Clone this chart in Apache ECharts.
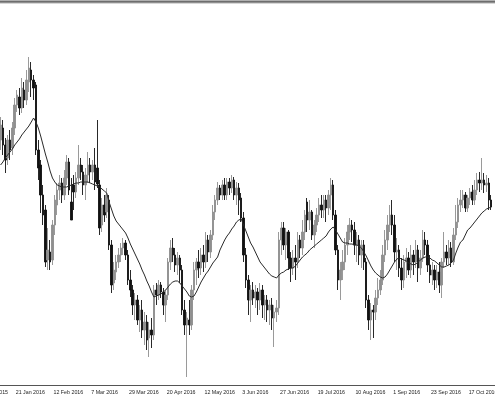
<!DOCTYPE html>
<html>
<head>
<meta charset="utf-8">
<script src="https://cdn.jsdelivr.net/npm/echarts@6/dist/echarts.min.js"></script>
<style>
html,body{margin:0;padding:0;background:#fff;}
#chart{width:495px;height:400px;}
</style>
</head>
<body>
<div id="chart"></div>
<script>
// Daily bars, weekdays starting 30 Dec 2015 (first drawn bar is index 10)
const startDate = '2015-12-30';
const barCount = 222;
const firstBar = 10;
const labelEvery = 16;

const opens = [260,272,255,242,260,252,272,295,303,292,310,300,318,330,320,315,250,235,205,190,140,148,140,175,195,210,217,205,222,238,198,215,208,222,235,228,215,225,235,228,235,232,215,175,195,188,200,155,117,128,138,145,152,157,145,120,110,95,100,80,90,70,78,62,70,65,110,105,115,108,95,105,138,152,145,135,142,130,90,75,80,75,110,130,138,132,145,138,160,148,165,188,200,212,205,215,205,218,212,220,205,212,202,182,145,120,100,110,102,108,100,110,95,100,90,95,82,88,92,160,172,155,168,142,132,142,138,160,152,168,198,180,188,165,175,185,195,190,200,192,205,215,185,150,120,130,138,155,168,175,170,155,160,145,155,138,100,80,90,88,102,110,120,145,160,175,185,175,148,150,132,120,138,142,130,145,138,150,132,142,160,155,135,125,130,120,128,115,138,148,142,152,138,165,178,195,200,205,192,202,208,200,210,220,217,220,215,217,200];
const closes = [275,255,240,260,250,272,295,305,292,312,300,320,332,320,312,250,232,205,185,138,150,138,175,200,210,217,205,222,238,210,180,208,222,235,228,215,225,235,228,235,218,216,172,195,185,205,155,115,130,138,145,152,157,145,120,110,95,100,80,90,70,78,60,70,65,110,105,115,108,95,105,138,152,145,135,142,130,90,75,82,75,110,130,138,132,145,138,160,148,165,188,200,212,205,215,205,218,212,220,205,212,200,182,145,120,100,110,102,108,100,110,95,100,90,95,82,88,92,160,172,155,168,142,132,142,138,160,152,168,185,180,188,165,175,185,195,190,200,192,205,215,185,150,120,130,138,155,168,175,170,155,160,145,155,138,100,80,90,88,102,110,120,145,160,175,185,175,148,150,132,120,138,142,130,145,138,150,132,142,160,155,135,125,130,120,128,115,138,148,142,152,138,165,178,195,200,205,192,202,208,200,210,220,217,220,215,217,200,193];
const lows = [250,245,227,235,240,245,265,288,285,287,292,295,308,303,300,245,220,187,175,133,130,130,135,165,185,200,197,200,215,205,195,190,202,215,220,205,200,217,217,220,210,212,165,168,178,182,150,107,110,120,132,138,145,140,115,103,85,80,75,68,62,55,50,43,52,60,95,100,102,85,78,100,130,138,128,125,117,85,65,23,65,70,100,115,122,125,128,132,138,142,160,180,195,200,200,200,200,205,207,200,195,185,178,138,112,85,78,95,92,85,90,82,80,78,75,70,53,78,85,145,150,140,130,118,125,120,132,142,145,160,168,170,160,152,168,178,182,182,178,185,190,180,145,110,100,120,130,145,160,158,145,138,135,132,130,92,70,60,62,80,95,105,115,138,150,168,165,138,130,123,110,112,122,125,122,125,132,118,125,138,145,128,117,115,110,112,107,102,132,135,135,133,135,160,172,188,192,188,188,195,195,195,205,208,210,207,208,190,190];
const highs = [283,280,262,265,270,278,302,310,312,322,318,330,343,338,325,318,260,240,215,195,172,160,180,205,217,225,222,230,245,242,222,225,228,255,242,235,232,248,242,240,252,280,220,202,205,212,205,160,138,145,152,157,162,160,150,130,115,107,105,95,100,88,85,78,82,115,117,120,118,112,110,142,160,162,152,148,145,135,100,88,100,115,138,142,150,152,155,168,165,170,195,205,218,215,220,222,222,222,225,223,218,217,207,188,152,125,115,118,115,112,117,115,105,105,100,102,95,100,168,178,178,172,170,148,150,155,168,165,180,190,202,200,190,180,192,202,205,205,205,210,222,220,190,155,138,150,162,175,182,180,178,168,165,160,160,142,105,97,95,110,122,130,155,170,185,195,200,185,162,155,142,145,152,148,155,150,160,155,150,170,168,160,145,138,135,135,138,142,168,155,160,158,172,195,202,210,210,208,205,212,215,220,227,228,242,227,225,222,205];
const maValues = [235,238,242,245,248,251,255,258,261,265,268,271,274,278,282,278,272,264,255,246,238,229,222,218,215,214,213,213,213,214,215,216,217,217,218,218,218,218,217,216,215,214,213,211,209,207,198,191,184,179,176,173,170,167,162,156,151,146,141,136,130,125,119,114,108,103,104,105,106,108,110,113,116,118,119,119,117,114,111,108,104,103,104,108,113,118,122,126,129,133,137,140,143,150,155,160,164,167,171,174,178,180,181,175,169,163,157,153,148,143,138,135,132,129,126,124,123,122,125,127,128,130,131,132,132,134,137,140,143,145,147,150,152,154,156,158,160,162,164,168,171,173,170,166,162,158,157,157,156,156,155,155,154,152,148,144,139,134,130,127,125,123,122,123,126,130,134,138,141,142,141,140,139,137,136,135,136,138,140,142,143,143,142,140,139,137,135,133,133,134,135,137,140,147,153,158,160,165,170,172,175,178,181,184,187,189,191,192,193];

const monthNames = ['Jan','Feb','Mar','Apr','May','Jun','Jul','Aug','Sep','Oct','Nov','Dec'];
const categories = [];
(function () {
  const d = new Date(startDate + 'T00:00:00Z');
  while (categories.length < barCount) {
    const wd = d.getUTCDay();
    if (wd !== 0 && wd !== 6) {
      categories.push(d.getUTCDate() + ' ' + monthNames[d.getUTCMonth()] + ' ' + d.getUTCFullYear());
    }
    d.setUTCDate(d.getUTCDate() + 1);
  }
})();

const candleData = opens.map((o, k) => [firstBar + k, o, closes[k], lows[k], highs[k]]);
const maData = maValues.map((v, k) => [firstBar + k, v]);

const chart = echarts.init(document.getElementById('chart'), null, {renderer: 'canvas'});
chart.setOption({
  animation: false,
  backgroundColor: '#ffffff',
  grid: {left: -24.2, width: 523.7, top: 0, height: 385.7, containLabel: false, outerBoundsMode: 'none'},
  xAxis: {
    type: 'category',
    data: categories,
    boundaryGap: true,
    axisLine: {lineStyle: {color: '#555', width: 1}},
    axisTick: {alignWithLabel: true, interval: labelEvery - 1, length: 3, lineStyle: {color: '#555'}},
    axisLabel: {
      interval: labelEvery - 1, align: 'left', verticalAlign: 'top', margin: 4,
      fontSize: 5.3, fontFamily: 'Liberation Sans', color: '#222', padding: [0, 0, 0, 1]
    },
    splitLine: {show: false}
  },
  yAxis: {type: 'value', min: 14.3, max: 400, show: false, splitLine: {show: false}},
  series: [
    {
      type: 'candlestick',
      data: candleData,
      encode: {x: 0, y: [1, 2, 3, 4]},
      barWidth: 2,
      itemStyle: {
        color: '#8f8f8f', color0: '#111', borderColor: '#8f8f8f', borderColor0: '#111', borderWidth: 0.9
      }
    },
    {
      type: 'line',
      data: maData,
      symbol: 'none',
      lineStyle: {color: '#2a2a2a', width: 1},
      z: 5
    }
  ],
  graphic: [
    {type: 'rect', shape: {x: 0, y: 0, width: 495, height: 3.5}, style: {fill: '#b0b0b0'}, silent: true},
    {type: 'rect', shape: {x: 0, y: 1, width: 495, height: 1.5}, style: {fill: '#6e6e6e'}, silent: true}
  ]
});
</script>
</body>
</html>
